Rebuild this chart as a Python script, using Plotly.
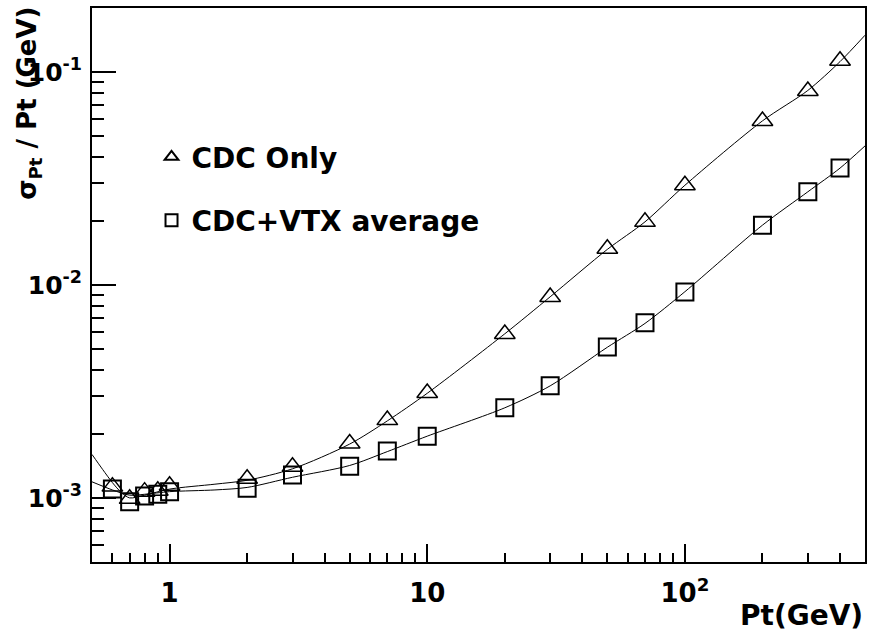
import plotly.graph_objects as go

# measured points
pt = [0.6, 0.7, 0.8, 0.9, 1, 2, 3, 5, 7, 10, 20, 30, 50, 70, 100, 200, 300, 400]
cdc_only = [1.13e-3, 0.99e-3, 1.07e-3, 1.08e-3, 1.14e-3, 1.23e-3, 1.40e-3, 1.80e-3, 2.32e-3,
            3.11e-3, 5.89e-3, 8.79e-3, 1.48e-2, 1.98e-2, 2.94e-2, 5.89e-2, 8.15e-2, 0.113]
cdc_vtx = [1.10e-3, 0.96e-3, 1.02e-3, 1.04e-3, 1.07e-3, 1.11e-3, 1.28e-3, 1.41e-3, 1.66e-3,
           1.95e-3, 2.65e-3, 3.36e-3, 5.12e-3, 6.64e-3, 9.27e-3, 1.91e-2, 2.74e-2, 3.54e-2]

# fit curves
cdc_fit_pt = [0.5, 0.55, 0.6, 0.65, 0.7, 0.8, 1, 1.5, 2, 3, 5, 7, 10, 20, 30, 50, 70, 100, 200, 300, 400, 500]
cdc_fit = [1.6e-3, 1.36e-3, 1.18e-3, 1.06e-3, 1.0e-3, 1.03e-3, 1.10e-3, 1.16e-3, 1.21e-3, 1.37e-3,
           1.79e-3, 2.3e-3, 3.1e-3, 5.9e-3, 8.8e-3, 1.47e-2, 1.98e-2, 2.94e-2, 5.9e-2, 8.2e-2, 0.112, 0.149]
vtx_fit_pt = [0.5, 0.6, 0.7, 0.8, 1, 1.5, 2, 3, 5, 7, 10, 20, 30, 50, 70, 100, 200, 300, 400, 500]
vtx_fit = [1.19e-3, 1.09e-3, 1.03e-3, 1.04e-3, 1.07e-3, 1.09e-3, 1.12e-3, 1.25e-3, 1.42e-3, 1.65e-3,
           1.95e-3, 2.65e-3, 3.36e-3, 5.1e-3, 6.6e-3, 9.3e-3, 1.91e-2, 2.74e-2, 3.54e-2, 4.5e-2]

x_major = [1, 10, 100]
x_major_text = ["<b>1</b>", "<b>10</b>", "<b>10<sup>2</sup></b>"]
x_minor = [0.5, 0.6, 0.7, 0.8, 0.9, 2, 3, 4, 5, 6, 7, 8, 9, 20, 30, 40, 50, 60, 70, 80, 90, 200, 300, 400]
y_major = [1e-3, 1e-2, 1e-1]
y_major_text = ["<b>10<sup>-3</sup></b>", "<b>10<sup>-2</sup></b>", "<b>10<sup>-1</sup></b>"]
y_minor = [6e-4, 7e-4, 8e-4, 9e-4, 2e-3, 3e-3, 4e-3, 5e-3, 6e-3, 7e-3, 8e-3, 9e-3,
           2e-2, 3e-2, 4e-2, 5e-2, 6e-2, 7e-2, 8e-2, 9e-2]

FONT = "DejaVu Sans"

fig = go.Figure()
fig.add_trace(go.Scatter(x=cdc_fit_pt, y=cdc_fit, mode="lines", showlegend=False,
                         line=dict(color="black", width=1, shape="spline", smoothing=0.8)))
fig.add_trace(go.Scatter(x=vtx_fit_pt, y=vtx_fit, mode="lines", showlegend=False,
                         line=dict(color="black", width=1, shape="spline", smoothing=0.8)))
fig.add_trace(go.Scatter(x=pt, y=cdc_only, mode="markers", name="<b>CDC Only</b>", legendgroup="a",
                         marker=dict(symbol="triangle-up-open", size=18, color="black",
                                     line=dict(width=1.5, color="black"))))
fig.add_trace(go.Scatter(x=pt, y=cdc_vtx, mode="markers", name="<b>CDC+VTX average</b>", legendgroup="b",
                         marker=dict(symbol="square-open", size=17, color="black",
                                     line=dict(width=2, color="black"))))

fig.update_layout(
    width=869, height=632,
    margin=dict(l=92, r=2, t=8, b=70),
    paper_bgcolor="white", plot_bgcolor="white",
    font=dict(family=FONT, color="black"),
    legend=dict(x=0.077, y=0.776, xanchor="left", yanchor="top",
                font=dict(size=28, family=FONT), bgcolor="rgba(0,0,0,0)",
                itemsizing="constant", tracegroupgap=24),
    annotations=[
        dict(text="<b>Pt(GeV)</b>", xref="paper", yref="paper", x=1.0, y=-0.13,
             xanchor="right", yanchor="bottom", showarrow=False, font=dict(size=28)),
        dict(text="<b>σ<sub>Pt</sub> / Pt (GeV)</b>", xref="paper", yref="paper",
             x=-0.082, y=1.006, xanchor="center", yanchor="top", textangle=-90,
             showarrow=False, font=dict(size=26)),
    ],
)

fig.update_xaxes(
    type="log", range=[-0.30103, 2.69897],
    showgrid=False, zeroline=False,
    showline=True, linecolor="black", linewidth=2, mirror=True,
    ticks="inside", ticklen=18, tickwidth=1.5, tickcolor="black",
    tickmode="array", tickvals=x_major, ticktext=x_major_text,
    tickfont=dict(size=26, family=FONT), ticklabelstandoff=7,
    minor=dict(tickmode="array", tickvals=x_minor, ticks="inside", ticklen=9,
               tickwidth=1.5, tickcolor="black", showgrid=False),
)
fig.update_yaxes(
    type="log", range=[-3.30103, -0.69897],
    showgrid=False, zeroline=False,
    showline=True, linecolor="black", linewidth=2, mirror=True,
    ticks="inside", ticklen=24, tickwidth=1.5, tickcolor="black",
    tickmode="array", tickvals=y_major, ticktext=y_major_text,
    tickfont=dict(size=25, family=FONT), ticklabelstandoff=3,
    minor=dict(tickmode="array", tickvals=y_minor, ticks="inside", ticklen=12,
               tickwidth=1.5, tickcolor="black", showgrid=False),
)

# drop the page's default body margin so the 869x632 figure fills the window
fig.write_html("out.html", config={"displayModeBar": False},
               post_script="document.body.style.margin='0';document.body.style.overflow='hidden';")
